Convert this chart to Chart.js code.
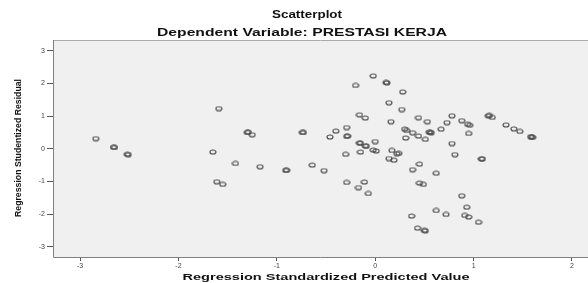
<!DOCTYPE html>
<html lang="id">
<head>
  <meta charset="UTF-8" />
  <title>Scatterplot</title>
  <script src="https://cdn.jsdelivr.net/npm/chart.js"></script>
  <style>
    html, body { margin: 0; padding: 0; background: #fff; }
    #wrap { width: 588px; height: 283px; }
  </style>
</head>
<body>
<div id="wrap"><canvas id="grafik" width="588" height="283"></canvas></div>
<script>
  // Data (x = predicted, y = studentized residual)
  const predicted = [
    -2.84, -2.66, -2.65, -2.52, -2.51,
    -1.59, -1.65, -1.61, -1.55, -1.42, -1.30, -1.29, -1.25, -1.17,
    -0.91, -0.90, -0.74, -0.73, -0.64, -0.52, -0.46, -0.40,
    -0.29, -0.29, -0.28, -0.30, -0.29, -0.17, -0.11, -0.07,
    -0.20, -0.16, -0.10, -0.16, -0.15, -0.10, -0.09, -0.15,
    -0.02, 0.11, 0.12, 0.00, -0.02, 0.01, 0.14, 0.16, 0.17, 0.22, 0.14, 0.19,
    0.28, 0.27, 0.44, 0.53, 0.78, 0.73, 0.88, 0.94, 0.96,
    0.30, 0.32, 0.38, 0.31, 0.44, 0.51, 0.55, 0.56, 0.57, 0.67, 0.95, 0.78, 0.24, 0.81,
    1.08, 1.09, 0.45, 0.38, 0.62, 0.45, 0.49, 0.88, 0.93, 0.62, 0.72, 0.91, 0.95, 0.37, 1.05,
    0.43, 0.50, 0.51, 1.15, 1.16, 1.19, 1.33, 1.41, 1.47, 1.58, 1.59, 1.60
  ];
  const residual = [
    0.31, 0.05, 0.04, -0.17, -0.18,
    1.23, -0.10, -1.01, -1.09, -0.45, 0.50, 0.51, 0.43, -0.55,
    -0.66, -0.66, 0.50, 0.50, -0.50, -0.67, 0.36, 0.54,
    0.65, 0.38, 0.39, -0.17, -1.03, -1.19, -1.02, -1.37,
    1.94, 1.04, 0.94, 0.18, 0.17, 0.09, 0.08, -0.10,
    2.23, 2.03, 2.02, 0.22, -0.04, -0.07, 1.41, 0.83, -0.05, -0.15, -0.30, -0.35,
    1.74, 1.20, 0.95, 0.83, 1.01, 0.80, 0.86, 0.75, 0.72,
    0.60, 0.56, 0.49, 0.33, 0.39, 0.29, 0.51, 0.50, 0.49, 0.60, 0.47, 0.16, -0.14, -0.18,
    -0.31, -0.31, -0.47, -0.64, -0.75, -1.05, -1.09, -1.44, -1.79, -1.89, -2.01, -2.04, -2.09, -2.06, -2.25,
    -2.43, -2.50, -2.51, 1.01, 1.02, 0.96, 0.73, 0.61, 0.53, 0.37, 0.36, 0.35
  ];
  const xTicks = [-3, -2, -1, 0, 1, 2];
  const yTicks = [-3, -2, -1, 0, 1, 2, 3];

  const titel1 = 'Scatterplot';
  const titel2 = 'Dependent Variable: PRESTASI KERJA';
  const xJudul = 'Regression Standardized Predicted Value';
  const yJudul = 'Regression Studentized Residual';

  // titik elips berongga (gambar asli agak melebar)
  const titik = document.createElement('canvas');
  titik.width = 8; titik.height = 6;
  const tc = titik.getContext('2d');
  tc.strokeStyle = '#4a4a4a';
  tc.lineWidth = 1.1;
  tc.beginPath();
  tc.ellipse(4, 3, 3, 2, 0, 0, Math.PI * 2);
  tc.stroke();

  const points = predicted.map((x, i) => ({ x: x, y: residual[i] }));

  // teks dipaksa ke lebar tertentu
  function tulisLebar(ctx, teks, cx, cy, lebar, font, rot) {
    ctx.save();
    ctx.font = font;
    const w = ctx.measureText(teks).width;
    ctx.translate(cx, cy);
    if (rot) ctx.rotate(-Math.PI / 2);
    ctx.scale(lebar / w, 1);
    ctx.textAlign = 'center';
    ctx.textBaseline = 'middle';
    ctx.fillStyle = '#111';
    ctx.fillText(teks, 0, 0);
    ctx.restore();
  }

  const bingkai = {
    id: 'bingkai',
    beforeDraw(chart) {
      const { ctx, chartArea: a } = chart;
      ctx.save();
      ctx.fillStyle = '#f0f0f0';
      ctx.fillRect(a.left, a.top, a.right - a.left, a.bottom - a.top);
      ctx.restore();
    },
    afterDraw(chart) {
      const { ctx, chartArea: a } = chart;
      ctx.save();
      ctx.lineWidth = 1;
      ctx.strokeStyle = '#aaaaaa';
      ctx.beginPath();
      ctx.moveTo(a.left, a.top + 0.5);
      ctx.lineTo(a.right, a.top + 0.5);
      ctx.stroke();
      ctx.strokeStyle = '#808080';
      ctx.beginPath();
      ctx.moveTo(a.left + 0.5, a.top);
      ctx.lineTo(a.left + 0.5, a.bottom + 0.5);
      ctx.lineTo(a.right, a.bottom + 0.5);
      ctx.stroke();
      ctx.restore();
      tulisLebar(ctx, titel1, 307, 15, 70, 'bold 10px "Liberation Sans", Arial', false);
      tulisLebar(ctx, titel2, 302, 33, 290, 'bold 10px "Liberation Sans", Arial', false);
      tulisLebar(ctx, xJudul, 326, 278, 287, 'bold 9px "Liberation Sans", Arial', false);
      tulisLebar(ctx, yJudul, 19, 148, 138, 'bold 9px "Liberation Sans", Arial', true);
    }
  };

  const ctx = document.getElementById('grafik').getContext('2d');
  const chart = new Chart(ctx, {
    type: 'scatter',
    data: {
      datasets: [{
        data: points,
        pointStyle: titik,
        pointRadius: 3,
        borderColor: '#4a4a4a',
        backgroundColor: 'rgba(0,0,0,0)'
      }]
    },
    plugins: [bingkai],
    options: {
      responsive: false,
      animation: false,
      layout: { autoPadding: false, padding: { top: 40, left: 0, right: 0, bottom: 0 } },
      plugins: { legend: { display: false }, tooltip: { enabled: false } },
      scales: {
        x: {
          type: 'linear',
          min: -3.275,
          max: 2.163,
          afterFit(s) { s.height = 26; s.paddingLeft = 0; s.paddingRight = 0; },
          afterBuildTicks(s) { s.ticks = xTicks.map(v => ({ value: v })); },
          ticks: { color: '#444', font: { size: 7, family: '"Liberation Sans", Arial' }, padding: 1, maxRotation: 0 },
          grid: { drawOnChartArea: false, drawTicks: true, tickLength: 4, color: '#555' },
          border: { display: false }
        },
        y: {
          type: 'linear',
          min: -3.315,
          max: 3.33,
          afterFit(s) { s.width = 53; s.paddingTop = 0; s.paddingBottom = 0; },
          afterBuildTicks(s) { s.ticks = yTicks.map(v => ({ value: v })); },
          ticks: { color: '#444', font: { size: 7, family: '"Liberation Sans", Arial' }, padding: 2 },
          grid: { drawOnChartArea: false, drawTicks: true, tickLength: 6, color: '#555' },
          border: { display: false }
        }
      }
    }
  });
</script>
</body>
</html>
